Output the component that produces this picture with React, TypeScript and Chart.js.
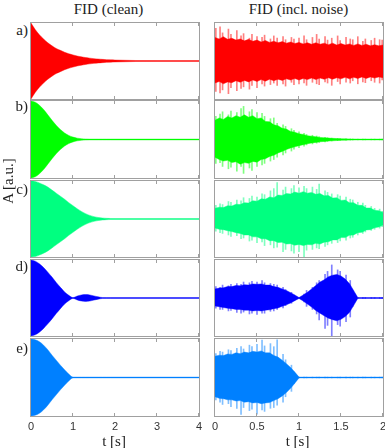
import React, { useEffect, useRef } from "react";
import { Chart, registerables } from "chart.js";

Chart.register(...registerables);

// ---------- data ----------
const PANEL_LABELS = ["a)", "b)", "c)", "d)", "e)"];
const COLORS = ["#ff0000", "#00ff00", "#00ff80", "#0000ff", "#0080ff"];
const TITLE_CLEAN = "FID (clean)";
const TITLE_NOISY = "FID (incl. noise)";
const Y_LABEL = "A [a.u.]";
const X_LABEL = "t [s]";
const X_TICKS_CLEAN = [0, 1, 2, 3, 4];
const X_TICKS_NOISY = [0, 0.5, 1, 1.5, 2];

// clean envelopes (amplitude as fraction of panel half-height)
const T_CLEAN = [0, 0.1, 0.2, 0.3, 0.4, 0.5, 0.6, 0.7, 0.8, 0.9, 1.0, 1.1, 1.2, 1.3, 1.4, 1.5, 1.6, 1.7, 1.8, 1.9, 2.0, 2.5, 3.0, 3.5, 4.0];
const CLEAN_A = [1.0, 0.83, 0.69, 0.58, 0.48, 0.40, 0.33, 0.28, 0.23, 0.19, 0.16, 0.13, 0.11, 0.09, 0.075, 0.062, 0.052, 0.043, 0.036, 0.03, 0.025, 0.013, 0.01, 0.01, 0.01];
const CLEAN_B = [1.0, 0.97, 0.89, 0.78, 0.64, 0.50, 0.37, 0.26, 0.17, 0.105, 0.062, 0.035, 0.02, 0.013, 0.01, 0.01, 0.01, 0.01, 0.01, 0.01, 0.01, 0.01, 0.01, 0.01, 0.01];
const CLEAN_C = [1.0, 0.99, 0.95, 0.9, 0.84, 0.76, 0.68, 0.6, 0.52, 0.43, 0.35, 0.27, 0.2, 0.14, 0.095, 0.062, 0.04, 0.026, 0.018, 0.013, 0.01, 0.01, 0.01, 0.01, 0.01];
const CLEAN_D = [1.0, 0.97, 0.9, 0.8, 0.68, 0.55, 0.41, 0.28, 0.16, 0.07, 0.01, 0.05, 0.08, 0.09, 0.08, 0.055, 0.03, 0.012, 0.01, 0.01, 0.01, 0.01, 0.01, 0.01, 0.01];
const CLEAN_E = [1.0, 0.98, 0.93, 0.84, 0.72, 0.58, 0.45, 0.32, 0.2, 0.09, 0.01, 0.01, 0.01, 0.01, 0.01, 0.01, 0.01, 0.01, 0.01, 0.01, 0.01, 0.01, 0.01, 0.01, 0.01];

// noisy signals: ragged solid core (upper / lower magnitude) and noise spikes
const T_NOISY = [0, 0.05, 0.1, 0.15, 0.2, 0.25, 0.3, 0.35, 0.4, 0.45, 0.5, 0.55, 0.6, 0.65, 0.7, 0.75, 0.8, 0.85, 0.9, 0.95, 1.0, 1.05, 1.1, 1.15, 1.2, 1.25, 1.3, 1.35, 1.4, 1.45, 1.5, 1.55, 1.6, 1.65, 1.7, 1.75, 1.8, 1.85, 1.9, 1.95, 2.0];
const T_SPIKE = [0.01, 0.06, 0.09, 0.16, 0.19, 0.26, 0.31, 0.34, 0.41, 0.44, 0.5, 0.56, 0.59, 0.66, 0.7, 0.74, 0.81, 0.84, 0.91, 0.94, 1.0, 1.06, 1.09, 1.16, 1.21, 1.24, 1.31, 1.34, 1.39, 1.46, 1.49, 1.56, 1.61, 1.64, 1.7, 1.76, 1.79, 1.86, 1.9, 1.96, 1.99];

const NOISY_A_CORE_UP = [0.62, 0.58, 0.64, 0.57, 0.6, 0.55, 0.58, 0.53, 0.57, 0.52, 0.55, 0.5, 0.54, 0.49, 0.52, 0.48, 0.51, 0.47, 0.5, 0.46, 0.49, 0.45, 0.48, 0.44, 0.48, 0.44, 0.47, 0.43, 0.47, 0.42, 0.46, 0.42, 0.45, 0.41, 0.45, 0.41, 0.44, 0.4, 0.43, 0.4, 0.42];
const NOISY_A_CORE_LO = [0.58, 0.54, 0.6, 0.55, 0.57, 0.52, 0.56, 0.51, 0.55, 0.5, 0.54, 0.49, 0.53, 0.48, 0.52, 0.48, 0.51, 0.47, 0.5, 0.46, 0.5, 0.46, 0.49, 0.45, 0.49, 0.45, 0.48, 0.44, 0.48, 0.44, 0.47, 0.43, 0.47, 0.43, 0.46, 0.42, 0.46, 0.42, 0.45, 0.42, 0.44];
const NOISY_A_SPIKE_UP = [0.86, 0.9, 0.74, 0.84, 0.7, 0.8, 0.66, 0.72, 0.6, 0.7, 0.64, 0.62, 0.68, 0.58, 0.66, 0.6, 0.64, 0.56, 0.62, 0.58, 0.6, 0.66, 0.56, 0.62, 0.7, 0.58, 0.64, 0.55, 0.6, 0.66, 0.54, 0.62, 0.58, 0.56, 0.64, 0.52, 0.58, 0.54, 0.6, 0.56, 0.55];
const NOISY_A_SPIKE_LO = [0.8, 0.84, 0.76, 0.86, 0.7, 0.78, 0.72, 0.68, 0.74, 0.64, 0.7, 0.6, 0.66, 0.62, 0.58, 0.64, 0.6, 0.66, 0.56, 0.62, 0.6, 0.58, 0.64, 0.56, 0.6, 0.62, 0.55, 0.58, 0.64, 0.54, 0.6, 0.56, 0.58, 0.52, 0.6, 0.55, 0.57, 0.52, 0.56, 0.58, 0.5];

const NOISY_B_CORE_UP = [0.5, 0.56, 0.52, 0.6, 0.56, 0.62, 0.58, 0.64, 0.58, 0.62, 0.54, 0.56, 0.47, 0.46, 0.38, 0.36, 0.29, 0.27, 0.21, 0.19, 0.15, 0.13, 0.1, 0.085, 0.07, 0.055, 0.045, 0.037, 0.03, 0.025, 0.02, 0.017, 0.014, 0.012, 0.01, 0.01, 0.01, 0.01, 0.01, 0.01, 0.01];
const NOISY_B_CORE_LO = [0.46, 0.52, 0.56, 0.54, 0.6, 0.58, 0.64, 0.6, 0.62, 0.57, 0.59, 0.52, 0.5, 0.44, 0.41, 0.35, 0.31, 0.26, 0.22, 0.19, 0.16, 0.135, 0.11, 0.09, 0.075, 0.06, 0.05, 0.04, 0.033, 0.027, 0.022, 0.018, 0.015, 0.012, 0.01, 0.01, 0.01, 0.01, 0.01, 0.01, 0.01];
const NOISY_B_SPIKE_UP = [0.6, 0.66, 0.72, 0.64, 0.74, 0.7, 0.8, 0.86, 0.72, 0.78, 0.7, 0.68, 0.6, 0.54, 0.56, 0.42, 0.38, 0.34, 0.28, 0.24, 0.2, 0.16, 0.13, 0.11, 0.09, 0.07, 0.055, 0.045, 0.035, 0.028, 0.022, 0.018, 0.015, 0.012, 0.01, 0.01, 0.01, 0.01, 0.01, 0.01, 0.01];
const NOISY_B_SPIKE_LO = [0.62, 0.6, 0.7, 0.76, 0.72, 0.82, 0.7, 0.88, 0.74, 0.8, 0.7, 0.66, 0.62, 0.56, 0.52, 0.46, 0.4, 0.35, 0.3, 0.25, 0.21, 0.17, 0.14, 0.115, 0.095, 0.075, 0.06, 0.048, 0.038, 0.03, 0.024, 0.019, 0.015, 0.012, 0.01, 0.01, 0.01, 0.01, 0.01, 0.01, 0.01];

const NOISY_C_CORE_UP = [0.28, 0.31, 0.3, 0.35, 0.34, 0.39, 0.38, 0.43, 0.42, 0.48, 0.47, 0.53, 0.52, 0.58, 0.56, 0.63, 0.62, 0.67, 0.66, 0.71, 0.68, 0.72, 0.68, 0.7, 0.65, 0.67, 0.61, 0.62, 0.55, 0.56, 0.49, 0.5, 0.43, 0.43, 0.36, 0.36, 0.29, 0.29, 0.23, 0.22, 0.17];
const NOISY_C_CORE_LO = [0.24, 0.27, 0.28, 0.31, 0.33, 0.36, 0.38, 0.42, 0.42, 0.47, 0.47, 0.52, 0.52, 0.57, 0.57, 0.62, 0.61, 0.66, 0.65, 0.69, 0.67, 0.7, 0.67, 0.68, 0.64, 0.66, 0.61, 0.6, 0.55, 0.55, 0.49, 0.49, 0.43, 0.42, 0.36, 0.35, 0.29, 0.28, 0.23, 0.21, 0.16];
const NOISY_C_SPIKE_UP = [0.36, 0.4, 0.38, 0.46, 0.44, 0.5, 0.48, 0.56, 0.54, 0.6, 0.58, 0.66, 0.64, 0.74, 0.8, 0.96, 0.76, 0.84, 0.8, 0.88, 0.82, 0.86, 0.8, 0.84, 0.78, 0.92, 0.74, 0.7, 0.66, 0.64, 0.6, 0.58, 0.52, 0.5, 0.44, 0.42, 0.36, 0.33, 0.28, 0.26, 0.2];
const NOISY_C_SPIKE_LO = [0.32, 0.36, 0.38, 0.42, 0.46, 0.44, 0.52, 0.5, 0.58, 0.56, 0.62, 0.6, 0.7, 0.68, 0.76, 0.74, 0.86, 0.8, 0.84, 0.9, 0.86, 0.99, 0.82, 0.8, 0.76, 0.78, 0.72, 0.68, 0.64, 0.62, 0.58, 0.56, 0.5, 0.48, 0.42, 0.38, 0.34, 0.3, 0.27, 0.24, 0.2];

const NOISY_D_CORE_UP = [0.24, 0.26, 0.27, 0.3, 0.3, 0.33, 0.32, 0.35, 0.34, 0.37, 0.36, 0.37, 0.34, 0.34, 0.3, 0.28, 0.24, 0.2, 0.14, 0.08, 0.01, 0.08, 0.15, 0.24, 0.33, 0.42, 0.48, 0.56, 0.6, 0.62, 0.58, 0.5, 0.38, 0.2, 0.01, 0.01, 0.01, 0.01, 0.01, 0.01, 0.01];
const NOISY_D_CORE_LO = [0.21, 0.23, 0.25, 0.27, 0.28, 0.3, 0.3, 0.32, 0.32, 0.34, 0.33, 0.34, 0.32, 0.31, 0.28, 0.26, 0.22, 0.18, 0.13, 0.07, 0.01, 0.08, 0.16, 0.24, 0.33, 0.4, 0.47, 0.53, 0.57, 0.6, 0.56, 0.49, 0.38, 0.2, 0.01, 0.01, 0.01, 0.01, 0.01, 0.01, 0.01];
const NOISY_D_SPIKE_UP = [0.3, 0.28, 0.34, 0.32, 0.36, 0.38, 0.36, 0.42, 0.4, 0.44, 0.42, 0.46, 0.4, 0.38, 0.36, 0.34, 0.28, 0.22, 0.15, 0.08, 0.01, 0.1, 0.2, 0.28, 0.4, 0.46, 0.62, 0.7, 0.87, 0.74, 0.7, 0.6, 0.46, 0.2, 0.01, 0.01, 0.01, 0.01, 0.01, 0.01, 0.01];
const NOISY_D_SPIKE_LO = [0.27, 0.3, 0.3, 0.34, 0.33, 0.38, 0.4, 0.37, 0.42, 0.4, 0.43, 0.4, 0.4, 0.35, 0.34, 0.3, 0.26, 0.2, 0.14, 0.07, 0.01, 0.1, 0.22, 0.3, 0.42, 0.58, 0.8, 0.72, 1.0, 0.7, 0.74, 0.62, 0.5, 0.22, 0.01, 0.01, 0.01, 0.01, 0.01, 0.01, 0.01];

const NOISY_E_CORE_UP = [0.55, 0.58, 0.57, 0.61, 0.6, 0.64, 0.62, 0.66, 0.64, 0.68, 0.66, 0.69, 0.64, 0.64, 0.57, 0.53, 0.45, 0.36, 0.26, 0.14, 0.01, 0.01, 0.01, 0.01, 0.01, 0.01, 0.01, 0.01, 0.01, 0.01, 0.01, 0.01, 0.01, 0.01, 0.01, 0.01, 0.01, 0.01, 0.01, 0.01, 0.01];
const NOISY_E_CORE_LO = [0.5, 0.54, 0.55, 0.58, 0.58, 0.61, 0.6, 0.64, 0.63, 0.66, 0.65, 0.68, 0.66, 0.65, 0.6, 0.55, 0.48, 0.39, 0.28, 0.15, 0.01, 0.01, 0.01, 0.01, 0.01, 0.01, 0.01, 0.01, 0.01, 0.01, 0.01, 0.01, 0.01, 0.01, 0.01, 0.01, 0.01, 0.01, 0.01, 0.01, 0.01];
const NOISY_E_SPIKE_UP = [0.62, 0.68, 0.66, 0.72, 0.7, 0.76, 0.8, 0.74, 0.84, 0.8, 0.86, 0.97, 0.82, 0.88, 0.8, 0.98, 0.6, 0.46, 0.32, 0.14, 0.01, 0.01, 0.01, 0.01, 0.01, 0.01, 0.01, 0.01, 0.01, 0.01, 0.01, 0.01, 0.01, 0.01, 0.01, 0.01, 0.01, 0.01, 0.01, 0.01, 0.01];
const NOISY_E_SPIKE_LO = [0.58, 0.64, 0.7, 0.68, 0.76, 0.8, 0.96, 0.78, 0.86, 0.82, 0.95, 0.84, 0.88, 0.8, 0.78, 0.72, 0.64, 0.5, 0.36, 0.16, 0.01, 0.01, 0.01, 0.01, 0.01, 0.01, 0.01, 0.01, 0.01, 0.01, 0.01, 0.01, 0.01, 0.01, 0.01, 0.01, 0.01, 0.01, 0.01, 0.01, 0.01];

const CLEAN_SERIES = [CLEAN_A, CLEAN_B, CLEAN_C, CLEAN_D, CLEAN_E];
const NOISY_SERIES = [
  { coreUp: NOISY_A_CORE_UP, coreLo: NOISY_A_CORE_LO, spikeUp: NOISY_A_SPIKE_UP, spikeLo: NOISY_A_SPIKE_LO },
  { coreUp: NOISY_B_CORE_UP, coreLo: NOISY_B_CORE_LO, spikeUp: NOISY_B_SPIKE_UP, spikeLo: NOISY_B_SPIKE_LO },
  { coreUp: NOISY_C_CORE_UP, coreLo: NOISY_C_CORE_LO, spikeUp: NOISY_C_SPIKE_UP, spikeLo: NOISY_C_SPIKE_LO },
  { coreUp: NOISY_D_CORE_UP, coreLo: NOISY_D_CORE_LO, spikeUp: NOISY_D_SPIKE_UP, spikeLo: NOISY_D_SPIKE_LO },
  { coreUp: NOISY_E_CORE_UP, coreLo: NOISY_E_CORE_LO, spikeUp: NOISY_E_SPIKE_UP, spikeLo: NOISY_E_SPIKE_LO },
];

// ---------- layout ----------
const ROWS = [
  { top: 23, h: 76, labelY: 29.5 },
  { top: 101, h: 77, labelY: 106 },
  { top: 181, h: 76, labelY: 189 },
  { top: 260, h: 76, labelY: 266 },
  { top: 339, h: 77, labelY: 348 },
];
const COLS = [
  { left: 31, w: 168 },
  { left: 215, w: 168 },
];
const PADX = 10;
const PADY = 2;
const TICK_AREA = 20;
const FRAME_COLOR = "#a0a0a0";
const TEXT_COLOR = "#222";
const SERIF = "'Liberation Serif', 'DejaVu Serif', serif";

function hexA(hex: string, a: number) {
  const r = parseInt(hex.slice(1, 3), 16);
  const g = parseInt(hex.slice(3, 5), 16);
  const b = parseInt(hex.slice(5, 7), 16);
  return `rgba(${r},${g},${b},${a})`;
}

const framePlugin = {
  id: "frame",
  afterDatasetsDraw(chart: any, _args: any, opts: any) {
    const { ctx, chartArea: a, scales } = chart;
    const x = scales.x;
    ctx.save();
    ctx.strokeStyle = FRAME_COLOR;
    ctx.lineWidth = 1;
    ctx.strokeRect(a.left - 0.5, a.top - 0.5, a.right - a.left + 1, a.bottom - a.top + 1);
    ctx.beginPath();
    for (const v of opts.ticks || []) {
      const px = Math.round(x.getPixelForValue(v)) - 0.5;
      ctx.moveTo(px, a.top);
      ctx.lineTo(px, a.top + 3);
      ctx.moveTo(px, a.bottom);
      ctx.lineTo(px, a.bottom - 3);
    }
    ctx.stroke();
    ctx.restore();
  },
};

type Band = { t: number[]; up: number[]; lo: number[]; smooth: boolean };
type Spikes = { t: number[]; up: number[]; lo: number[] } | null;

function Panel(props: { row: number; col: number; band: Band; spikes: Spikes; color: string }) {
  const { row, col, band, spikes, color } = props;
  const ref = useRef<HTMLCanvasElement>(null);
  const R = ROWS[row];
  const C = COLS[col];
  const bottom = row === ROWS.length - 1;
  const w = C.w + 2 * PADX;
  const h = R.h + PADY + (bottom ? TICK_AREA : PADY);
  const xTicks = col === 0 ? X_TICKS_CLEAN : X_TICKS_NOISY;

  useEffect(() => {
    const datasets: any[] = [];
    const common = {
      type: "line",
      backgroundColor: color,
      borderColor: hexA(color, 0.55),
      borderWidth: 0.8,
      pointRadius: 0,
      tension: band.smooth ? 0.4 : 0,
      cubicInterpolationMode: band.smooth ? "monotone" : "default",
    };
    datasets.push({ ...common, data: band.t.map((t, i) => ({ x: t, y: band.up[i] })), fill: "+1" });
    datasets.push({ ...common, data: band.t.map((t, i) => ({ x: t, y: -band.lo[i] })), fill: false });
    if (spikes) {
      datasets.push({
        type: "bar",
        data: spikes.t.map((t, i) => ({ x: t, y: [-spikes.lo[i], spikes.up[i]] })),
        backgroundColor: hexA(color, 0.5),
        borderWidth: 0,
        barThickness: 1,
        grouped: false,
      });
    }
    const chart = new Chart(ref.current as HTMLCanvasElement, {
      type: "line",
      data: { datasets },
      options: {
        animation: false,
        responsive: false,
        devicePixelRatio: 1,
        layout: { padding: { left: PADX, right: PADX, top: PADY, bottom: bottom ? 0 : PADY } },
        plugins: {
          legend: { display: false },
          tooltip: { enabled: false },
          frame: { ticks: xTicks },
        } as any,
        scales: {
          x: {
            type: "linear",
            offset: false,
            min: xTicks[0],
            max: xTicks[xTicks.length - 1],
            grid: { display: false, drawTicks: false, offset: false },
            border: { display: false },
            afterBuildTicks: (s: any) => {
              s.ticks = xTicks.map((v) => ({ value: v }));
            },
            afterFit: (s: any) => {
              s.height = bottom ? TICK_AREA : 0;
            },
            ticks: {
              display: bottom,
              autoSkip: false,
              maxRotation: 0,
              padding: 4,
              color: "#333",
              font: { family: "'Liberation Sans', Arial, sans-serif", size: 11 },
              callback: (v: any) => String(v),
            },
          },
          y: { display: false, min: -1, max: 1 },
        },
      } as any,
      plugins: [framePlugin],
    });
    return () => chart.destroy();
  }, []);

  return (
    <canvas
      ref={ref}
      width={w}
      height={h}
      style={{ position: "absolute", left: C.left - PADX, top: R.top - PADY, width: w, height: h }}
    />
  );
}

function Txt(props: { x: number; y: number; children: any; rotate?: boolean; size?: number; align?: string }) {
  const { x, y, children, rotate, size = 15, align = "center" } = props;
  const tx = align === "right" ? "-100%" : "-50%";
  return (
    <div
      style={{
        position: "absolute",
        left: x,
        top: y,
        transform: `translate(${tx},-50%)` + (rotate ? " rotate(-90deg)" : ""),
        fontFamily: SERIF,
        fontSize: size,
        lineHeight: 1,
        color: TEXT_COLOR,
        whiteSpace: "nowrap",
      }}
    >
      {children}
    </div>
  );
}

export default function App() {
  return (
    <div style={{ position: "absolute", left: 0, top: 0, width: 385, height: 448, background: "#fff", overflow: "hidden" }}>
      <Txt x={108.5} y={9}>{TITLE_CLEAN}</Txt>
      <Txt x={298.5} y={9}>{TITLE_NOISY}</Txt>
      {ROWS.map((r, i) => (
        <React.Fragment key={i}>
          <Txt x={28} y={r.labelY} align="right">{PANEL_LABELS[i]}</Txt>
          <Panel
            row={i}
            col={0}
            color={COLORS[i]}
            band={{ t: T_CLEAN, up: CLEAN_SERIES[i], lo: CLEAN_SERIES[i], smooth: true }}
            spikes={null}
          />
          <Panel
            row={i}
            col={1}
            color={COLORS[i]}
            band={{ t: T_NOISY, up: NOISY_SERIES[i].coreUp, lo: NOISY_SERIES[i].coreLo, smooth: false }}
            spikes={{ t: T_SPIKE, up: NOISY_SERIES[i].spikeUp, lo: NOISY_SERIES[i].spikeLo }}
          />
        </React.Fragment>
      ))}
      <Txt x={7.5} y={181} rotate>{Y_LABEL}</Txt>
      <Txt x={114} y={441}>{X_LABEL}</Txt>
      <Txt x={297.5} y={441}>{X_LABEL}</Txt>
    </div>
  );
}
